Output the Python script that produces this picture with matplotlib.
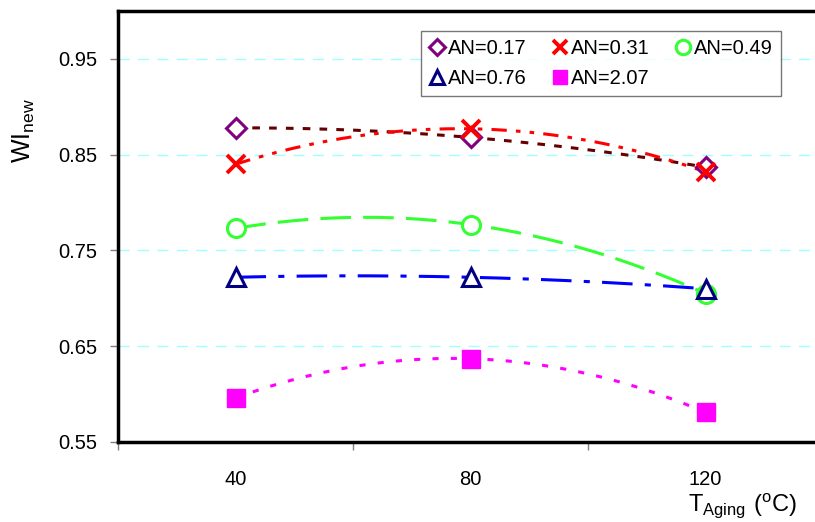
import numpy as np
import matplotlib
matplotlib.use("Agg")
import matplotlib.pyplot as plt
from matplotlib.lines import Line2D

plt.rcParams['font.family'] = ['Liberation Sans', 'DejaVu Sans']
plt.rcParams['mathtext.fontset'] = 'custom'
plt.rcParams['mathtext.rm'] = 'Liberation Sans'

# aging temperature (C)
t_aging = [40, 80, 120]

# WI_new for each acid number
wi_017 = [0.878, 0.868, 0.837]
wi_031 = [0.840, 0.877, 0.832]
wi_049 = [0.773, 0.777, 0.705]
wi_076 = [0.722, 0.722, 0.710]
wi_207 = [0.596, 0.637, 0.581]

labels = ['AN=0.17', 'AN=0.31', 'AN=0.49', 'AN=0.76', 'AN=2.07']
series = [wi_017, wi_031, wi_049, wi_076, wi_207]

# marker style, marker colour, trendline colour, trendline dashes
styles = [
    dict(marker='D', ms=10, mfc='white', mec='#800080', mew=2.2),
    dict(marker='x', ms=13, mfc='none', mec='#FF0000', mew=2.8),
    dict(marker='o', ms=13, mfc='white', mec='#33FF33', mew=2.2),
    dict(marker='^', ms=13, mfc='white', mec='#000080', mew=2.2),
    dict(marker='s', ms=13, mfc='#FF00FF', mec='#FF00FF', mew=1),
]
trend_colors = ['#660000', '#FF0000', '#33FF33', '#0000FF', '#FF00FF']
trend_dashes = [(2.5, 3), (5, 3, 1.5, 3, 1.5, 3), (10, 4), (10, 4, 2, 4), (2, 4)]

fig = plt.figure(figsize=(8.15, 5.22), dpi=100)
ax = fig.add_axes([118 / 815, 80 / 522, 705 / 815, 431 / 522])

x = np.array(t_aging, dtype=float)
xs = np.linspace(40, 120, 200)
for ys, st, c, d in zip(series, styles, trend_colors, trend_dashes):
    p = np.polyfit(x, ys, 2)
    ax.plot(xs, np.polyval(p, xs), color=c, lw=2.2, dashes=d, zorder=2)
for ys, st in zip(series, styles):
    ax.plot(x, ys, ls='none', zorder=3, **st)

ax.set_xlim(20, 140)
ax.set_ylim(0.55, 1.0)
ax.set_xticks([20, 60, 100, 140])
ax.set_xticklabels([])
ax.set_xticks(t_aging, minor=True)
ax.set_xticklabels([str(v) for v in t_aging], minor=True)
ax.tick_params(axis='x', which='major', length=6, width=1, color='#808080', direction='out')
ax.tick_params(axis='x', which='minor', length=0, pad=20, labelsize=14.5)
ax.set_yticks([0.55, 0.65, 0.75, 0.85, 0.95])
ax.set_yticklabels(['0.55', '0.65', '0.75', '0.85', '0.95'])
ax.tick_params(axis='y', length=6, width=1, color='#808080', pad=9, labelsize=14.5)

for yv in [0.65, 0.75, 0.85, 0.95]:
    ax.axhline(yv, color='#A0FFFF', lw=1, dashes=(8, 6), zorder=1)

for s in ['left', 'bottom', 'top']:
    ax.spines[s].set_linewidth(2.5)
    ax.spines[s].set_color('black')
ax.spines['right'].set_visible(False)

handles = []
for st in styles:
    st2 = dict(st)
    st2['ms'] = st['ms'] * 0.8
    handles.append(Line2D([], [], ls='none', **st2))
order = [0, 3, 1, 4, 2]
leg = ax.legend([handles[i] for i in order], [labels[i] for i in order],
                ncol=3, loc='upper left', bbox_to_anchor=(421 / 815, 1 - 31 / 522),
                bbox_transform=fig.transFigure, fontsize=14.5, frameon=True,
                fancybox=False, edgecolor='#555555', handlelength=0.8,
                handletextpad=0.15, columnspacing=1.25, labelspacing=0.55,
                borderpad=0.4, borderaxespad=0)
leg.get_frame().set_linewidth(1)

fig.text(24 / 815, 1 - 131 / 522, r'$\mathregular{WI_{new}}$', rotation=90,
         fontsize=18, ha='center', va='center')
fig.text(742 / 815, 1 - 506 / 522, r'$\mathregular{T_{Aging}\ (^{o}C)}$',
         fontsize=17, ha='center', va='center')

fig.savefig('out.png', dpi=100)
